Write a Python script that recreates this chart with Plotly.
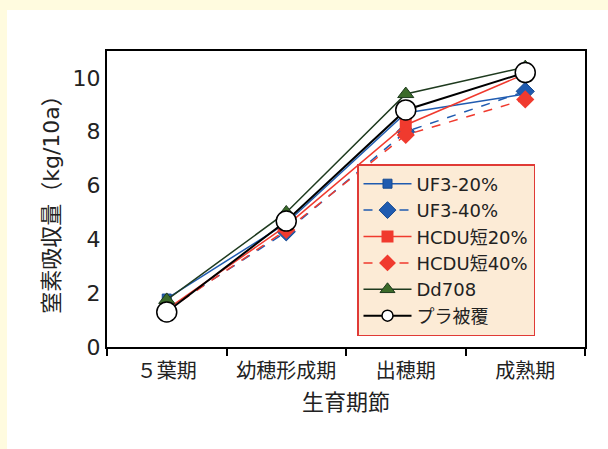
import plotly.graph_objects as go

categories = ["５葉期", "幼穂形成期", "出穂期", "成熟期"]
uf3_20 = [1.8, 4.6, 8.7, 9.4]
uf3_40 = [1.4, 4.28, 8.0, 9.5]
hcdu_20 = [1.4, 4.5, 8.25, 10.15]
hcdu_40 = [1.35, 4.35, 7.88, 9.2]
dd708 = [1.75, 5.0, 9.4, 10.4]
pla = [1.3, 4.68, 8.81, 10.2]

names = ["UF3-20%", "UF3-40%", "HCDU短20%", "HCDU短40%", "Dd708", "プラ被覆"]

BLUE = "#1F5BB0"
RED = "#F03A2E"
GREEN_LINE = "#1E3A1E"
GREEN_MK = "#3B6B2A"
CREAM = "#FFFBDF"

FONT = "DejaVu Sans, Noto Sans CJK JP"
CJK = "Noto Sans CJK JP"
TXT = "#222222"

styles = [
    dict(line=dict(color=BLUE, width=1.5),
         marker=dict(symbol="square", color=BLUE, line=dict(color="#174A90", width=1)), size=9, lsize=9),
    dict(line=dict(color=BLUE, width=1.5, dash="dash"),
         marker=dict(symbol="diamond", color=BLUE, line=dict(color="#174A90", width=1)), size=14, lsize=13),
    dict(line=dict(color=RED, width=1.5),
         marker=dict(symbol="square", color=RED), size=12, lsize=12),
    dict(line=dict(color=RED, width=1.5, dash="dash"),
         marker=dict(symbol="diamond", color=RED), size=14, lsize=13),
    dict(line=dict(color=GREEN_LINE, width=1.5),
         marker=dict(symbol="triangle-up", color=GREEN_MK, line=dict(color=GREEN_LINE, width=1)), size=14, lsize=13),
    dict(line=dict(color="black", width=2),
         marker=dict(symbol="circle", color="white", line=dict(color="black", width=1.5)), size=20, lsize=11),
]
series = [uf3_20, uf3_40, hcdu_20, hcdu_40, dd708, pla]

fig = go.Figure()
for name, ys, st in zip(names, series, styles):
    fig.add_trace(go.Scatter(x=categories, y=ys, name=name, mode="lines+markers", showlegend=False,
                             line=st["line"], marker=dict(st["marker"], size=st["size"])))
# legend entries (same styles, smaller legend markers)
for name, st in zip(names, styles):
    fig.add_trace(go.Scatter(x=[None], y=[None], name=name, mode="lines+markers",
                             line=st["line"], marker=dict(st["marker"], size=st["lsize"])))

# white inner panel on cream page
L, R, T, B = 107, 585, 51, 347
W, H = R - L, B - T
fig.add_shape(type="rect", xref="paper", yref="paper",
              x0=(7 - L) / W, x1=(615 - L) / W, y0=(B - 455) / H, y1=(B - 10) / H,
              fillcolor="white", line=dict(width=0), layer="below")

fig.update_layout(
    width=608, height=449,
    margin=dict(l=L, r=608 - R, t=T, b=449 - B, autoexpand=False),
    paper_bgcolor=CREAM,
    plot_bgcolor="rgba(0,0,0,0)",
    font=dict(family=FONT, color=TXT),
    showlegend=True,
    legend=dict(x=(357 - L) / W, y=(B - 336) / H, xanchor="left", yanchor="bottom",
                bgcolor="#FCEBD6", bordercolor="#E03A36", borderwidth=1.5,
                font=dict(family=FONT, size=18, color=TXT),
                tracegroupgap=0, itemwidth=48),
)
fig.update_xaxes(type="category", range=[-0.5, 3.5], showline=True, mirror=True, linecolor="black", linewidth=2,
                 ticks="outside", ticklen=7, tickwidth=2, tickcolor="black", tickson="boundaries",
                 ticklabelstandoff=5, automargin=False,
                 tickfont=dict(size=20, family=CJK, color=TXT),
                 title=dict(text="生育期節", font=dict(size=22, family=CJK, color=TXT), standoff=4),
                 showgrid=False)
fig.update_yaxes(range=[0, 11], tickvals=[0, 2, 4, 6, 8, 10], showline=True, mirror=True,
                 linecolor="black", linewidth=2, ticks="", showgrid=False, zeroline=False,
                 ticklabelstandoff=0, automargin=False,
                 tickfont=dict(size=22, family=FONT, color=TXT),
                 title=dict(text="窒素吸収量（kg/10a）", font=dict(size=22, family=FONT, color=TXT), standoff=7))

fig.write_html("out.html", config={"displayModeBar": False},
               post_script="document.body.style.margin='0';document.body.style.background='%s';" % CREAM)
